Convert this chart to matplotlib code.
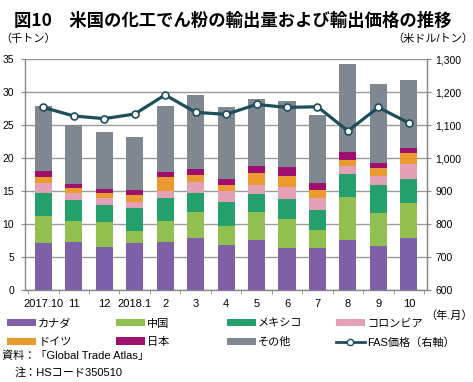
import matplotlib
matplotlib.use('Agg')
import matplotlib.pyplot as plt
import matplotlib.ticker as mticker
from matplotlib.patches import Patch
from matplotlib.lines import Line2D
import numpy as np

plt.rcParams['font.family'] = ['Liberation Sans', 'Noto Sans CJK JP']
plt.rcParams['font.size'] = 8

months = ['2017.10', '11', '12', '2018.1', '2', '3', '4', '5', '6', '7', '8', '9', '10']

# thousand tonnes, by country
canada   = [7.2, 7.35, 6.6, 7.2, 7.3, 7.95, 6.8, 7.65, 6.45, 6.45, 7.55, 6.65, 7.95]
china    = [4.0, 3.15, 3.8, 1.8, 3.25, 3.85, 2.9, 4.25, 4.35, 2.7, 6.6, 5.05, 5.25]
mexico   = [3.5, 3.25, 2.45, 3.4, 3.5, 3.0, 3.6, 2.75, 3.1, 3.05, 3.45, 4.3, 3.7]
colombia = [1.5, 0.95, 1.2, 1.05, 1.05, 1.65, 1.8, 1.35, 1.7, 1.8, 1.3, 1.3, 2.2]
germany  = [0.9, 0.75, 0.65, 1.0, 2.0, 0.95, 0.9, 1.7, 1.7, 1.2, 0.85, 1.2, 1.7]
japan    = [1.0, 0.65, 0.7, 0.8, 0.8, 1.0, 0.9, 1.1, 1.4, 1.1, 1.2, 0.8, 0.75]
others   = [9.8, 9.0, 8.6, 8.0, 10.05, 11.2, 10.8, 10.15, 9.9, 10.3, 13.35, 12.0, 10.25]

# FAS price, USD/tonne
fas_price = [1154, 1128, 1120, 1134, 1192, 1139, 1133, 1163, 1154, 1156, 1083, 1154, 1107]

series = [
    ('カナダ', canada, '#7F5FA8'),
    ('中国', china, '#92C050'),
    ('メキシコ', mexico, '#23A06C'),
    ('コロンビア', colombia, '#E4A0B4'),
    ('ドイツ', germany, '#EA9A2E'),
    ('日本', japan, '#9E0F70'),
    ('その他', others, '#7F8891'),
]
line_color = '#1E4E5C'

fig = plt.figure(figsize=(4.73, 3.82), dpi=100)
ax = fig.add_axes([0.053, 0.24, 0.85, 0.605])

x = np.arange(len(months))
bottom = np.zeros(len(months))
for name, vals, col in series:
    ax.bar(x, vals, 0.56, bottom=bottom, color=col, zorder=3)
    bottom += np.array(vals)

ax.set_ylim(0, 35)
ax.set_xlim(-0.6, len(months) - 0.4)
ax.yaxis.set_major_locator(mticker.MultipleLocator(5))
ax.grid(axis='y', color='#9A9A9A', linewidth=1.0, zorder=0)
ax.set_xticks(x)
ax.set_xticklabels(months)
ax.set_xticks(np.arange(len(months) + 1) - 0.5, minor=True)
ax.tick_params(axis='x', which='major', length=0, pad=6)
ax.tick_params(axis='x', which='minor', length=3, color='#888888')
ax.tick_params(axis='y', length=3, color='#888888', pad=5, labelsize=7.5)
ax.spines['top'].set_visible(False)
for s in ['left', 'bottom', 'right']:
    ax.spines[s].set_color('#888888')
    ax.spines[s].set_linewidth(1.0)

ax2 = ax.twinx()
ax2.plot(x, fas_price, color=line_color, linewidth=2.3, marker='o', markersize=5,
         markerfacecolor='white', markeredgecolor=line_color, markeredgewidth=1.2, zorder=5)
ax2.set_ylim(600, 1300)
ax2.yaxis.set_major_locator(mticker.MultipleLocator(100))
ax2.yaxis.set_major_formatter(mticker.StrMethodFormatter('{x:,.0f}'))
ax2.tick_params(axis='y', length=3, color='#888888', pad=3, labelsize=7.5)
ax2.spines['top'].set_visible(False)
ax2.spines['right'].set_color('#888888')
ax2.spines['left'].set_visible(False)
ax2.spines['bottom'].set_visible(False)

fig.text(0.03, 0.97, '図10　米国の化工でん粉の輸出量および輸出価格の推移', fontsize=12.5,
         fontweight='bold', family=['Noto Sans CJK JP'], va='top', ha='left')
fig.text(0.0, 0.90, '（千トン）', fontsize=8, va='center', ha='left')
fig.text(1.0, 0.90, '（米ドル/トン）', fontsize=8, va='center', ha='right')
fig.text(1.0, 0.175, '（年.月）', fontsize=8, va='center', ha='right')

handles = [Patch(facecolor=c, label=n) for n, _, c in series]
handles.append(Line2D([], [], color=line_color, linewidth=2, marker='o', markersize=4.5,
                      markerfacecolor='white', markeredgecolor=line_color, label='FAS価格（右軸）'))
cols = [[handles[0], handles[4]], [handles[1], handles[5]],
        [handles[2], handles[6]], [handles[3], handles[7]]]
col_x = [0.015, 0.245, 0.48, 0.71]
for cx, hs in zip(col_x, cols):
    fig.legend(handles=hs, loc='upper left', bbox_to_anchor=(cx, 0.166), frameon=False,
               handlelength=2.6, handleheight=0.6, handletextpad=0.2, labelspacing=0.75,
               borderaxespad=0, borderpad=0, fontsize=8)

fig.text(0.005, 0.07, '資料：「Global Trade Atlas」', fontsize=8, va='center', ha='left')
fig.text(0.03, 0.025, '注：HSコード350510', fontsize=8, va='center', ha='left')

fig.savefig('out.png', dpi=100)
